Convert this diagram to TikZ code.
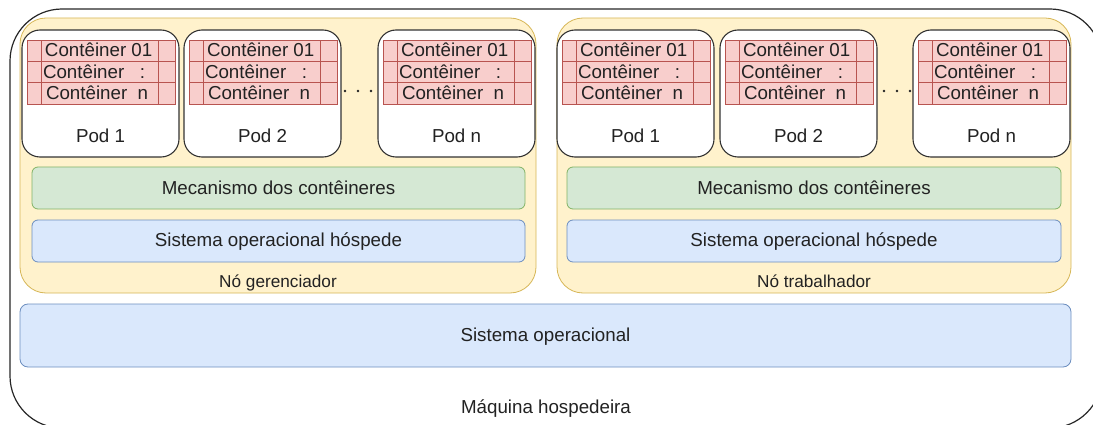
\documentclass[tikz,border=0pt]{standalone}
\usepackage{fontspec}
\setmainfont{Liberation Sans}
\definecolor{txt}{HTML}{222222}
\definecolor{ylfill}{HTML}{FFF2CC}
\definecolor{ylline}{HTML}{D6B656}
\definecolor{grfill}{HTML}{D5E8D4}
\definecolor{grline}{HTML}{82B366}
\definecolor{blfill}{HTML}{DAE8FC}
\definecolor{blline}{HTML}{6C8EBF}
\definecolor{rdfill}{HTML}{F8CECC}
\definecolor{rdline}{HTML}{B85450}

% One pod: rounded box, a stack of three container rows and its label.
% #1 = name prefix, #2 = left x, #3 = label
\newcommand\podunit[3]{%
  \node[pod] (#1) at (#2,30) {};
  \foreach \r/\rt/\lx/\lab in {0/a/23/{Contêiner 01},1/b/21/{Contêiner\hspace{15.6pt}:},2/c/24/{Contêiner\hspace{10.4pt}n}}{
    \node[cell, minimum width=14pt]  (#1-\rt l) at (#2+5,40+\r*21.33) {};
    \node[cell, minimum width=117pt] (#1-\rt m) at (#2+19,40+\r*21.33) {};
    \node[cell, minimum width=17pt]  (#1-\rt r) at (#2+136,40+\r*21.33) {};
    \node[anchor=base west] (#1-\rt t) at (#2+\lx,57+\r*21.15) {\lab};
  }
  \node[anchor=base] (#1-label) at (#2+78.5,143) {#3};
}

\begin{document}
\begin{tikzpicture}[x=1pt,y=-1pt,
  every node/.style={text=txt, inner sep=0pt, outer sep=0pt,
    font=\fontsize{18.75}{22}\selectfont},
  small/.style={font=\fontsize{17.2}{20}\selectfont},
  host/.style={draw=black!85, line width=1.2pt, rounded corners=52pt,
    anchor=north west, minimum width=1092pt, minimum height=419pt},
  knode/.style={draw=ylline, fill=ylfill, line width=0.8pt, rounded corners=26pt,
    anchor=north west, minimum height=275pt},
  pod/.style={draw=black!80, fill=white, line width=1.1pt, rounded corners=18pt,
    anchor=north west, minimum width=157pt, minimum height=127pt},
  cell/.style={draw=rdline, fill=rdfill, line width=0.7pt,
    anchor=north west, minimum height=21.33pt},
  engine/.style={draw=grline, fill=grfill, line width=0.8pt, rounded corners=6pt,
    anchor=north west, minimum height=42pt},
  guestos/.style={draw=blline, fill=blfill, line width=0.8pt, rounded corners=6pt,
    anchor=north west, minimum height=42pt},
  hostos/.style={draw=blline, fill=blfill, line width=0.8pt, rounded corners=8pt,
    anchor=north west, minimum width=1051pt, minimum height=63pt},
  gap/.style={fill=txt, circle, minimum size=2.8pt}
]
\useasboundingbox (0,0) rectangle (1093,425);

% host machine
\node[host] (host) at (10,9) {};
\node[anchor=base] (host-label) at (546,413) {Máquina hospedeira};

% manager and worker nodes
\node[knode, minimum width=516pt] (mgr) at (20,18) {};
\node[knode, minimum width=514pt] (wrk) at (557,18) {};
\node[anchor=base, small] (mgr-label) at (278,287) {Nó gerenciador};
\node[anchor=base, small] (wrk-label) at (814,287) {Nó trabalhador};

% container engines and guest operating systems
\node[engine, minimum width=493pt] (mgr-eng) at (32,167) {};
\node[anchor=base] at (278.5,194) {Mecanismo dos contêineres};
\node[guestos, minimum width=493pt] (mgr-os) at (32,220) {};
\node[anchor=base] at (278.5,246.5) {Sistema operacional hóspede};

\node[engine, minimum width=494pt] (wrk-eng) at (567,167) {};
\node[anchor=base] at (814,194) {Mecanismo dos contêineres};
\node[guestos, minimum width=494pt] (wrk-os) at (567,220) {};
\node[anchor=base] at (814,246.5) {Sistema operacional hóspede};

% host operating system
\node[hostos] (hos) at (20,304) {};
\node[anchor=base] (hos-label) at (545.5,341.5) {Sistema operacional};

% pods
\podunit{mp1}{22}{Pod 1}
\podunit{mp2}{184}{Pod 2}
\podunit{mpn}{378}{Pod n}
\podunit{wp1}{557}{Pod 1}
\podunit{wp2}{720}{Pod 2}
\podunit{wpn}{913}{Pod n}

% ellipsis between pods
\foreach \i/\x in {1/345,2/358,3/371}{\node[gap] (mdot\i) at (\x,91) {};}
\foreach \i/\x in {1/884,2/897,3/910}{\node[gap] (wdot\i) at (\x,91) {};}
\end{tikzpicture}
\end{document}
